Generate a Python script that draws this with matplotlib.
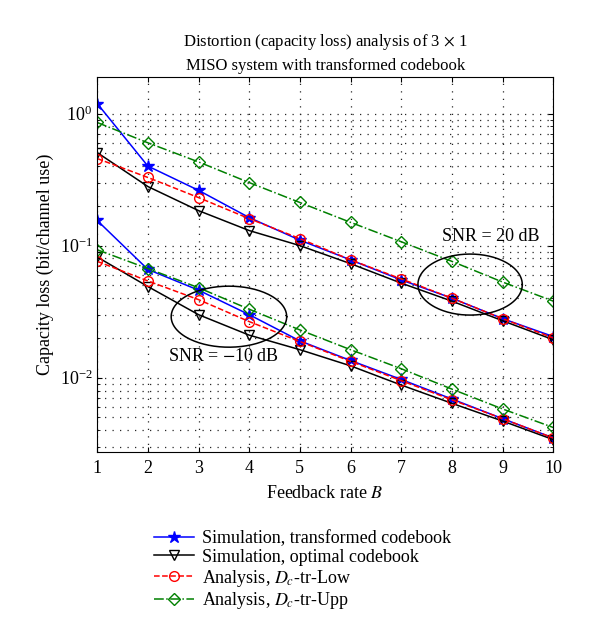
import numpy as np
import matplotlib
matplotlib.use("Agg")
import matplotlib.pyplot as plt

plt.rcParams['font.family'] = ['Liberation Serif', 'DejaVu Serif']
plt.rcParams['mathtext.fontset'] = 'stix'

B = np.arange(1, 11)

# SNR = 20 dB
sim_tr_20 = [1.19, 0.40, 0.262, 0.163, 0.110, 0.078, 0.055, 0.040, 0.028, 0.0205]
sim_opt_20 = [0.506, 0.280, 0.184, 0.130, 0.100, 0.073, 0.052, 0.038, 0.027, 0.0194]
ana_low_20 = [0.456, 0.328, 0.231, 0.160, 0.113, 0.078, 0.056, 0.040, 0.028, 0.020]
ana_upp_20 = [0.855, 0.600, 0.430, 0.300, 0.212, 0.150, 0.107, 0.076, 0.053, 0.038]

# SNR = -10 dB
sim_tr_m10 = [0.155, 0.066, 0.046, 0.030, 0.019, 0.0135, 0.0097, 0.0069, 0.0049, 0.0035]
sim_opt_m10 = [0.082, 0.049, 0.030, 0.021, 0.0163, 0.0123, 0.0088, 0.0064, 0.0047, 0.0034]
ana_low_m10 = [0.076, 0.054, 0.039, 0.0266, 0.0188, 0.0133, 0.0095, 0.0068, 0.0049, 0.0035]
ana_upp_m10 = [0.093, 0.067, 0.048, 0.033, 0.023, 0.0163, 0.0117, 0.0082, 0.0058, 0.0042]

labels = ['Simulation, transformed codebook', 'Simulation, optimal codebook',
          r'Analysis, $D_c$-tr-Low', r'Analysis, $D_c$-tr-Upp']

fig = plt.figure(figsize=(6, 6.39), dpi=100)
ax = fig.add_axes([0.162, 0.293, 0.760, 0.587])

green = (0, 0.5, 0)
styles = [dict(color='b', ls='-', marker='*', ms=9, mfc='b', mec='b', lw=1.1),
          dict(color='k', ls='-', marker='v', ms=7, mfc='none', mec='k', lw=1.1),
          dict(color='r', ls='--', marker='o', ms=7, mfc='none', mec='r', lw=1.1),
          dict(color=green, ls='-.', marker='D', ms=6, mfc='none', mec=green, lw=1.1)]

group20 = [sim_tr_20, sim_opt_20, ana_low_20, ana_upp_20]
groupm10 = [sim_tr_m10, sim_opt_m10, ana_low_m10, ana_upp_m10]
handles = []
for k in range(4):
    h, = ax.plot(B, group20[k], **styles[k])
    ax.plot(B, groupm10[k], **styles[k])
    handles.append(h)

# ellipses marking the SNR groups
t = np.linspace(0, 2 * np.pi, 200)
ax.plot(8.36 + 1.03 * np.cos(t), 10 ** (-1.295 + 0.231 * np.sin(t)), color='k', lw=1.1)
ax.plot(3.6 + 1.14 * np.cos(t), 10 ** (-1.538 + 0.231 * np.sin(t)), color='k', lw=1.1)
ax.text(8.76, 0.117, 'SNR = 20 dB', ha='center', va='center', fontsize=13)
ax.text(3.5, 0.0145, 'SNR = $-$10 dB', ha='center', va='center', fontsize=13)

ax.set_yscale('log')
ax.set_xlim(1, 10)
ax.set_ylim(0.00275, 1.9)
ax.set_xticks(B)
ax.tick_params(which='both', direction='in', top=True, right=True, labelsize=13)
ax.tick_params(axis='x', pad=6)
ax.grid(True, which='major', ls=(0, (1, 5)), color='0.15', lw=0.9)
ax.grid(True, which='minor', axis='y', ls=(0, (1, 5)), color='0.15', lw=0.9)

ax.set_xlabel('Feedback rate $B$', fontsize=13, labelpad=6)
ax.set_ylabel('Capacity loss (bit/channel use)', fontsize=13)
ax.set_title('Distortion (capacity loss) analysis of 3 $\\times$ 1\nMISO system with transformed codebook',
             fontsize=12, linespacing=1.45, pad=5)

fig.legend(handles, labels, loc='upper left', bbox_to_anchor=(0.245, 0.182),
           frameon=False, fontsize=13, handlelength=2.2, labelspacing=0.1,
           borderaxespad=0, handletextpad=0.45)

fig.savefig('out.png', dpi=100)
